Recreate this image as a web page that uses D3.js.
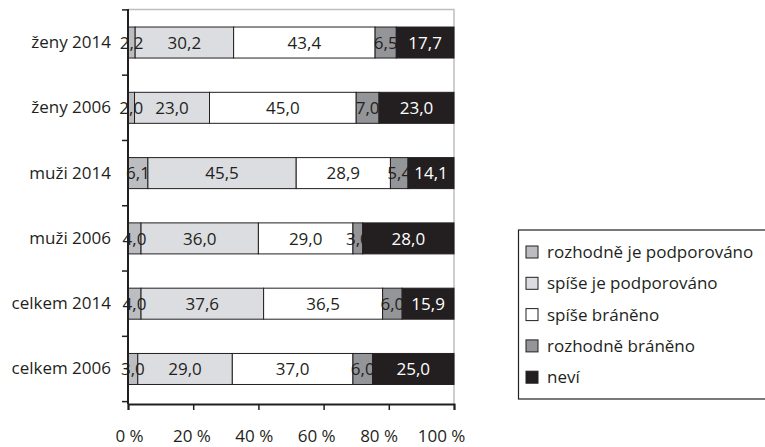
<!DOCTYPE html>
<html lang="cs">
<head>
    <meta charset="UTF-8">
    <title>Podpora</title>
    <script src="https://d3js.org/d3.v7.min.js"></script>
    <style>
        body { margin: 0; background: #fff; }
        text { font-family: "Open Sans", sans-serif; }
    </style>
</head>
<body>
    <svg id="chart" width="765" height="447"></svg>

    <script>
        // Kategorie (shora dolů)
        const categories = ["ženy 2014", "ženy 2006", "muži 2014", "muži 2006", "celkem 2014", "celkem 2006"];
        const seriesNames = ["rozhodně je podporováno", "spíše je podporováno", "spíše bráněno", "rozhodně bráněno", "neví"];
        const rozhodnePodporovano = [2.2, 2.0, 6.1, 4.0, 4.0, 3.0];
        const spisePodporovano = [30.2, 23.0, 45.5, 36.0, 37.6, 29.0];
        const spiseBraneno = [43.4, 45.0, 28.9, 29.0, 36.5, 37.0];
        const rozhodneBraneno = [6.5, 7.0, 5.4, 3.0, 6.0, 6.0];
        const nevi = [17.7, 23.0, 14.1, 28.0, 15.9, 25.0];
        const xTicks = [0, 20, 40, 60, 80, 100];

        const colors = ["#bcbdc0", "#dcdde0", "#ffffff", "#939598", "#231f20"];
        const textColors = ["#231f20", "#231f20", "#231f20", "#231f20", "#ffffff"];
        const fs = 17;

        const data = categories.map((c, i) => ({
            cat: c,
            vals: [rozhodnePodporovano[i], spisePodporovano[i], spiseBraneno[i], rozhodneBraneno[i], nevi[i]]
        }));

        const margin = {left: 128, top: 9, right: 311, bottom: 43};
        const svg = d3.select("#chart");
        const width = 765 - margin.left - margin.right;
        const height = 447 - margin.top - margin.bottom;
        const g = svg.append("g").attr("transform", `translate(${margin.left},${margin.top})`);

        const x = d3.scaleLinear().domain([0, 100]).range([0, width]);
        // popisky osy X jsou v originále trochu stažené k sobě
        const xLabel = d3.scaleLinear().domain([0, 100]).range([1, width - 13]);
        const y = d3.scaleBand().domain(categories).range([0, height - 1.5]).paddingInner(0.525).paddingOuter(0.276);

        // rámeček (horní a pravý)
        g.append("path")
         .attr("d", `M0,0.5H${width}V${height}`)
         .attr("fill", "none")
         .attr("stroke", "#bcbec0")
         .attr("stroke-width", 1.5);

        // sloupce
        const rows = g.selectAll(".row").data(data).enter().append("g")
            .attr("transform", d => `translate(0,${y(d.cat)})`);

        rows.each(function(d) {
            let acc = 0;
            const segs = d.vals.map((v, k) => { const s = {x0: acc, v: v, k: k}; acc += v; return s; });
            const r = d3.select(this);
            r.selectAll("rect").data(segs).enter().append("rect")
             .attr("x", s => x(s.x0))
             .attr("width", s => x(s.x0 + s.v) - x(s.x0))
             .attr("y", 0)
             .attr("height", y.bandwidth())
             .attr("fill", s => colors[s.k])
             .attr("stroke", "#231f20")
             .attr("stroke-width", 1);
            r.selectAll("text").data(segs).enter().append("text")
             .attr("x", s => x(s.x0 + s.v / 2))
             .attr("y", y.bandwidth() / 2)
             .attr("dy", "0.36em")
             .attr("text-anchor", "middle")
             .attr("font-size", fs)
             .attr("fill", s => textColors[s.k])
             .text(s => s.v.toFixed(1).replace(".", ","));
        });

        // osa Y
        const yAxis = g.append("g").call(d3.axisLeft(y).tickSize(0).tickPadding(17));
        yAxis.select(".domain").remove();
        yAxis.selectAll("text").attr("font-size", fs).attr("fill", "#231f20")
             .attr("font-family", "'Open Sans', sans-serif");
        // dělicí značky mezi kategoriemi
        const step = y.step();
        const sepTicks = d3.range(categories.length + 1).map(i => y(categories[0]) - y.paddingInner() * step / 2 + i * step);
        g.selectAll(".sep").data(sepTicks).enter().append("line")
         .attr("x1", -6).attr("x2", 0)
         .attr("y1", d => d).attr("y2", d => d)
         .attr("stroke", "#231f20").attr("stroke-width", 1.5);
        g.append("line").attr("x1", 0).attr("x2", 0).attr("y1", 0).attr("y2", height)
         .attr("stroke", "#231f20").attr("stroke-width", 2);

        // osa X
        const xAxis = g.append("g").attr("transform", `translate(0,${height})`)
            .call(d3.axisBottom(x).tickValues(xTicks).tickSize(6).tickPadding(20).tickFormat(d => d + " %"));
        xAxis.select(".domain").attr("stroke", "#231f20").attr("stroke-width", 2);
        xAxis.selectAll("line").attr("stroke", "#231f20").attr("stroke-width", 1.5);
        xAxis.selectAll("text").attr("font-size", fs).attr("fill", "#231f20")
             .attr("font-family", "'Open Sans', sans-serif")
             .attr("x", d => xLabel(d) - x(d));

        // legenda
        const lg = svg.append("g").attr("transform", "translate(518,230)");
        lg.append("rect").attr("x", 0.5).attr("y", 0).attr("width", 260).attr("height", 169)
          .attr("fill", "#fff").attr("stroke", "#231f20").attr("stroke-width", 1.2);
        const items = lg.selectAll(".item").data(seriesNames).enter().append("g")
          .attr("transform", (d, i) => `translate(8,${22 + i * 31.3})`);
        items.append("rect").attr("x", 0).attr("y", -6).attr("width", 12).attr("height", 12)
          .attr("fill", (d, i) => colors[i]).attr("stroke", "#231f20").attr("stroke-width", 1);
        items.append("text").attr("x", 21).attr("dy", "0.36em")
          .attr("font-size", fs).attr("fill", "#231f20").text(d => d);
    </script>
</body>
</html>
